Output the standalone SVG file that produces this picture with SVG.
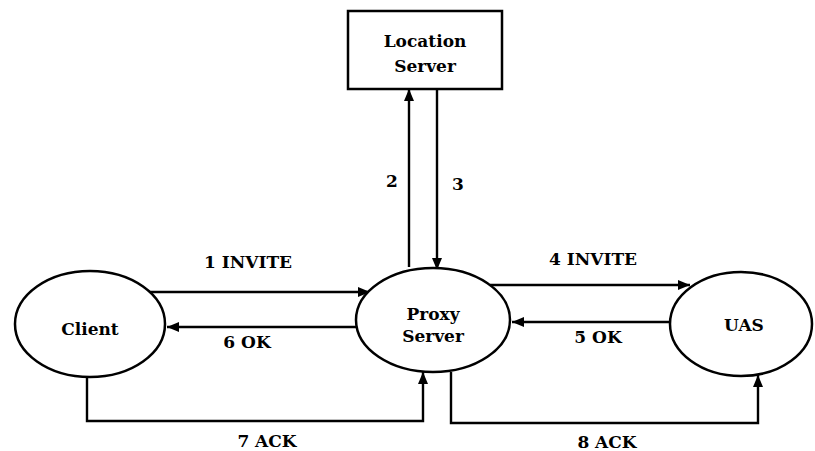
<svg xmlns="http://www.w3.org/2000/svg" width="815" height="451" viewBox="0 0 815 451">
<defs>
<marker id="ah" viewBox="0 0 12 10" refX="12" refY="5" markerWidth="12" markerHeight="10" markerUnits="userSpaceOnUse" orient="auto">
<path d="M0,0 L12,5 L0,10 Z" fill="#000"/>
</marker>
<style>
.n{fill:#fff;stroke:#000;stroke-width:2.5}
.t{font-family:'DejaVu Serif',serif;font-weight:bold;font-size:17px;fill:#000;text-anchor:middle}
.c{fill:none;stroke:#000;stroke-width:2.4;marker-end:url(#ah)}
</style>
</defs>
<rect width="815" height="451" fill="#fff"/>
<g id="connectors">
<path class="c" d="M409,267 V89"/>
<path class="c" d="M437,89 V270"/>
<path class="c" d="M147,292 H370"/>
<path class="c" d="M358,327 H167"/>
<path class="c" d="M87,378 V421 H423 V372"/>
<path class="c" d="M490,285 H690"/>
<path class="c" d="M669,322 H512"/>
<path class="c" d="M451,372 V423 H758 V375"/>
<text class="t" x="392" y="187">2</text>
<text class="t" x="458" y="190">3</text>
<text class="t" x="248" y="268">1 INVITE</text>
<text class="t" x="247" y="348">6 OK</text>
<text class="t" x="267" y="447">7 ACK</text>
<text class="t" x="593" y="265">4 INVITE</text>
<text class="t" x="598" y="343">5 OK</text>
<text class="t" x="607" y="448">8 ACK</text>
</g>
<g id="location-server">
<rect class="n" x="348" y="11" width="154" height="78"/>
<text class="t" x="425" y="47">Location</text>
<text class="t" x="425" y="72">Server</text>
</g>
<g id="client">
<ellipse class="n" cx="90" cy="324" rx="75" ry="53"/>
<text class="t" x="90" y="335">Client</text>
</g>
<g id="proxy-server">
<ellipse class="n" cx="433" cy="320" rx="77" ry="52"/>
<text class="t" x="433" y="320">Proxy</text>
<text class="t" x="433" y="342">Server</text>
</g>
<g id="uas">
<ellipse class="n" cx="741" cy="324" rx="71" ry="52"/>
<text class="t" x="744" y="331">UAS</text>
</g>
</svg>
